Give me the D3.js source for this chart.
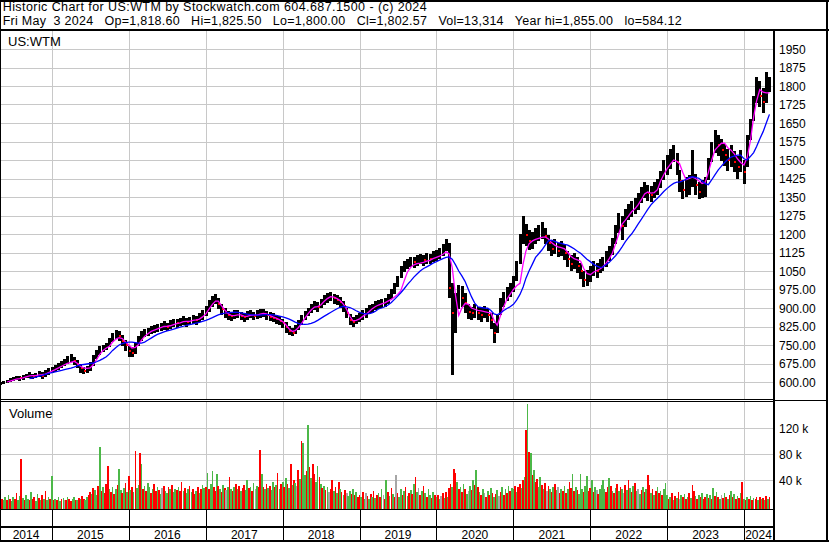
<!DOCTYPE html>
<html>
<head>
<meta charset="utf-8">
<title>Historic Chart for US:WTM</title>
<script src="https://cdn.jsdelivr.net/npm/d3@7"></script>
<style>
  html, body { margin: 0; padding: 0; background: #fff; }
  svg { display: block; font-family: "Liberation Sans", Arial, sans-serif; }
</style>
</head>
<body>
<script>
// price bars, two per month (1st and 16th), May 2014 .. May 2024
const lows = [
  586, 590, 594, 600, 603, 607, 606, 610, 616, 618, 612, 616, 620, 614, 622, 630,
  636, 640, 648, 655, 664, 672, 680, 668, 656, 638, 632, 636, 646, 664, 694, 708, 720, 728, 742, 764, 776, 768, 745, 725,
  700, 700, 712, 745, 768, 782, 788, 795, 800, 804, 808, 812, 806, 816, 822, 820, 826, 832, 824, 830, 836, 832, 842, 852,
  866, 885, 905, 915, 895, 872, 860, 850, 848, 855, 858, 850, 845, 852, 858, 850, 855, 860, 862, 852, 846, 842, 836, 830,
  818, 800, 790, 785, 796, 812, 832, 850, 866, 880, 890, 885, 898, 912, 922, 928, 918, 912, 902, 885, 858, 830, 822, 835,
  842, 852, 860, 874, 880, 890, 895, 900, 904, 915, 935, 958, 985, 1020, 1045, 1058, 1066, 1062, 1072, 1078, 1072, 1080, 1078, 1086,
  1090, 1098, 1112, 1130, 940, 630, 800, 895, 905, 880, 855, 850, 860, 850, 845, 860, 842, 815, 758, 800, 870, 905, 930, 945,
  965, 1010, 1080, 1160, 1150, 1135, 1140, 1160, 1170, 1180, 1158, 1130, 1110, 1118, 1105, 1110, 1095, 1068, 1050, 1058, 1040, 1018, 985, 990,
  1005, 1030, 1020, 1040, 1048, 1068, 1090, 1115, 1160, 1205, 1175, 1230, 1255, 1268, 1280, 1298, 1325, 1345, 1335, 1328, 1345, 1358, 1385, 1420,
  1440, 1465, 1490, 1440, 1370, 1340, 1350, 1360, 1390, 1360, 1340, 1345, 1350, 1420, 1490, 1530, 1515, 1495, 1475, 1455, 1470, 1450, 1425, 1450,
  1402, 1470, 1580, 1660, 1730, 1715, 1690, 1730, 1775
];
const highs = [
  602, 606, 610, 618, 620, 626, 624, 630, 634, 640, 634, 638, 644, 640, 648, 655,
  662, 668, 676, 684, 694, 704, 712, 702, 690, 672, 662, 666, 680, 708, 730, 745, 752, 760, 778, 800, 812, 806, 790, 770,
  745, 740, 760, 785, 805, 815, 820, 826, 832, 836, 840, 846, 838, 850, 856, 854, 860, 866, 858, 864, 870, 868, 878, 892,
  910, 932, 950, 955, 940, 915, 900, 888, 884, 890, 893, 885, 880, 888, 893, 885, 890, 895, 897, 888, 882, 878, 872, 866,
  856, 842, 826, 818, 832, 850, 870, 888, 902, 918, 928, 925, 938, 952, 962, 966, 958, 952, 944, 928, 902, 875, 862, 872,
  880, 890, 898, 912, 918, 928, 932, 938, 942, 958, 978, 1002, 1030, 1070, 1090, 1100, 1108, 1105, 1114, 1120, 1115, 1124, 1120, 1130,
  1135, 1142, 1160, 1178, 1165, 1000, 960, 995, 990, 960, 915, 905, 915, 905, 900, 910, 895, 880, 840, 870, 940, 965, 985, 1000,
  1030, 1090, 1200, 1272, 1240, 1215, 1210, 1225, 1235, 1248, 1225, 1195, 1175, 1180, 1165, 1170, 1158, 1130, 1115, 1122, 1105, 1082, 1048, 1055,
  1070, 1090, 1082, 1100, 1108, 1130, 1152, 1182, 1235, 1285, 1275, 1300, 1320, 1335, 1345, 1365, 1392, 1410, 1400, 1395, 1412, 1425, 1455, 1500,
  1520, 1545, 1562, 1530, 1460, 1420, 1430, 1440, 1540, 1445, 1410, 1420, 1430, 1510, 1575, 1622, 1600, 1585, 1565, 1545, 1560, 1535, 1515, 1540,
  1500, 1600, 1665, 1760, 1835, 1820, 1790, 1855, 1835
];
const closes = [
  595, 598, 604, 610, 612, 618, 615, 622, 626, 630, 622, 628, 633, 626, 638, 645,
  650, 656, 664, 672, 682, 692, 700, 686, 672, 655, 646, 652, 662, 690, 716, 730, 740, 746, 762, 786, 795, 788, 768, 748,
  725, 718, 742, 770, 790, 800, 806, 812, 816, 820, 826, 830, 822, 835, 840, 838, 845, 850, 842, 848, 855, 850, 862, 875,
  890, 912, 932, 940, 918, 895, 880, 870, 866, 872, 876, 868, 862, 870, 876, 868, 873, 878, 880, 870, 864, 860, 855, 848,
  838, 822, 806, 800, 815, 832, 852, 870, 886, 900, 910, 905, 920, 935, 945, 950, 940, 934, 924, 908, 880, 852, 842, 856,
  862, 872, 880, 895, 900, 910, 915, 920, 924, 940, 960, 985, 1010, 1050, 1070, 1080, 1090, 1085, 1095, 1100, 1094, 1104, 1100, 1110,
  1115, 1122, 1140, 1158, 980, 880, 905, 960, 940, 920, 885, 878, 890, 880, 872, 886, 870, 850, 800, 835, 905, 940, 955, 975,
  1000, 1060, 1150, 1230, 1195, 1172, 1180, 1195, 1205, 1215, 1190, 1162, 1140, 1150, 1132, 1140, 1125, 1100, 1080, 1092, 1070, 1050, 1012, 1022,
  1040, 1060, 1050, 1070, 1078, 1100, 1120, 1150, 1200, 1250, 1232, 1270, 1290, 1302, 1312, 1332, 1360, 1380, 1368, 1360, 1380, 1392, 1420, 1460,
  1480, 1510, 1535, 1490, 1415, 1380, 1392, 1400, 1445, 1400, 1370, 1380, 1392, 1470, 1530, 1580, 1560, 1540, 1520, 1500, 1520, 1490, 1470, 1500,
  1450, 1560, 1640, 1720, 1790, 1760, 1735, 1790, 1803
];
// moving averages (magenta = short, blue = long)
const maFast = [
  null, null, 600, 604, 608, 612, 614, 617, 621, 625, 626, 626, 629, 630, 632, 638,
  644, 650, 657, 664, 670, 676, 680, 684, 676, 664, 657, 655, 657, 670, 692, 712, 728, 738, 745, 762, 774, 780, 776, 762,
  750, 738, 740, 752, 770, 785, 796, 805, 810, 815, 820, 825, 826, 828, 833, 837, 840, 845, 846, 846, 850, 852, 855, 864,
  876, 895, 915, 928, 928, 910, 892, 878, 870, 869, 872, 872, 867, 866, 870, 871, 871, 875, 878, 876, 870, 864, 859, 853,
  845, 832, 815, 805, 808, 820, 838, 858, 876, 892, 904, 906, 912, 926, 938, 946, 944, 938, 930, 916, 894, 866, 848, 850,
  856, 866, 875, 886, 896, 905, 912, 917, 921, 928, 935, 945, 955, 970, 1010, 1045, 1065, 1075, 1080, 1082, 1085, 1090, 1093, 1100,
  1105, 1110, 1118, 1128, 1120, 1065, 950, 870, 900, 918, 915, 900, 895, 890, 888, 885, 882, 880, 850, 830, 870, 905, 935, 955,
  975, 990, 1000, 1080, 1130, 1160, 1172, 1178, 1182, 1186, 1188, 1180, 1165, 1155, 1148, 1145, 1140, 1125, 1110, 1100, 1095, 1090, 1060, 1040,
  1035, 1045, 1052, 1058, 1066, 1080, 1100, 1122, 1160, 1200, 1240, 1255, 1272, 1290, 1302, 1318, 1340, 1362, 1370, 1366, 1368, 1380, 1415, 1440,
  1465, 1482, 1500, 1495, 1485, 1450, 1420, 1425, 1430, 1425, 1415, 1405, 1410, 1450, 1500, 1540, 1555, 1568, 1568, 1550, 1540, 1525, 1505, 1490,
  1480, 1510, 1580, 1675, 1740, 1785, 1775, 1772, 1772
];
const maSlow = [
  null, null, null, null, null, null, null, null, null, 614, 617, 620, 624, 627, 631, 635,
  638, 641, 644, 647, 650, 653, 656, 660, 665, 669, 671, 673, 675, 677, 682, 688, 695, 702, 714, 728, 740, 750, 756, 760,
  762, 762, 760, 758, 758, 762, 770, 778, 786, 793, 798, 803, 807, 810, 814, 818, 822, 826, 830, 833, 836, 839, 842, 846,
  850, 855, 861, 867, 872, 876, 879, 881, 882, 883, 882, 880, 878, 875, 873, 872, 871, 871, 872, 873, 873, 872, 870, 867,
  864, 860, 855, 849, 843, 838, 835, 834, 835, 838, 843, 850, 858, 866, 874, 882, 890, 897, 903, 907, 905, 902, 896, 889,
  882, 878, 876, 877, 880, 886, 896, 900, 905, 912, 922, 935, 948, 962, 978, 995, 1010, 1025, 1038, 1050, 1060, 1067, 1074, 1082,
  1088, 1094, 1100, 1105, 1107, 1098, 1075, 1050, 1030, 1008, 975, 945, 920, 905, 902, 900, 899, 890, 876, 872, 880, 890, 898, 905,
  915, 932, 955, 985, 1020, 1050, 1078, 1105, 1120, 1135, 1155, 1172, 1175, 1170, 1165, 1162, 1158, 1155, 1148, 1140, 1130, 1122, 1110, 1098,
  1088, 1078, 1070, 1065, 1066, 1075, 1085, 1098, 1112, 1128, 1148, 1168, 1185, 1200, 1220, 1240, 1260, 1280, 1300, 1318, 1333, 1345, 1358, 1372,
  1385, 1396, 1405, 1410, 1410, 1415, 1422, 1430, 1432, 1430, 1426, 1415, 1404, 1400, 1420, 1440, 1460, 1475, 1490, 1502, 1512, 1516, 1520, 1520,
  1505, 1500, 1515, 1530, 1555, 1585, 1615, 1650, 1685
];
// volume in thousands, four per month (1st, 8th, 16th, 24th)
const volumes = [
  37, 12, 10, 15, 9, 18, 11, 8, 14, 12, 20, 9, 16, 73, 13, 10, 18, 12, 9, 22, 11, 15, 8, 19, 13, 10, 17, 12, 24, 9, 14, 11,
  46, 10, 12, 9, 14, 8, 11, 13, 10, 9, 15, 12, 8, 11, 14, 10, 9, 13, 12, 16, 11, 10, 14, 18,
  22, 19, 28, 25, 18, 32, 92, 24, 30, 21, 35, 62, 27, 22, 30, 19, 26, 33, 58, 25, 20, 28, 36, 22,
  47, 25, 30, 22, 85, 28, 33, 82, 65, 26, 31, 24, 36, 29, 20, 27, 34, 23, 30, 25, 19, 28, 32, 24,
  21, 29, 26, 33, 22, 27, 25, 30, 24, 38, 23, 28, 20, 26, 31, 22, 27, 19, 24, 29, 21, 26, 33, 28,
  30, 52, 26, 34, 55, 29, 24, 50, 31, 27, 22, 33, 28, 25, 30, 45, 27, 23, 29, 35, 26, 31, 24, 28,
  33, 25, 41, 28, 30, 24, 36, 27, 32, 29, 87, 50, 30, 26, 34, 28, 31, 25, 37, 29, 33, 52, 27, 35,
  38, 30, 44, 35, 28, 65, 33, 40, 36, 31, 56, 42, 100, 98, 48, 55, 125, 60, 44, 65, 50, 38, 62, 45,
  35, 28, 32, 25, 30, 22, 27, 41, 24, 29, 20, 37, 26, 22, 18, 25, 21, 16, 23, 19, 27, 17, 22, 15,
  18, 14, 22, 12, 20, 16, 11, 19, 15, 24, 13, 17, 21, 14, 26, 18, 12, 41, 22, 16, 28, 19, 15, 48,
  20, 14, 27, 18, 23, 30, 16, 21, 25, 19, 34, 45, 22, 28, 17, 24, 31, 20, 15, 26, 18, 13, 22, 17,
  14, 18, 12, 16, 20, 13, 22, 15, 28, 35, 30, 58, 52, 38, 26, 30, 22, 34, 27, 19, 24, 31, 25, 41,
  33, 56, 29, 22, 18, 26, 20, 15, 23, 17, 28, 21, 14, 19, 25, 16, 22, 30, 18, 26, 20, 32, 24, 28,
  26, 32, 22, 30, 35, 28, 40, 45, 117, 157, 83, 82, 48, 56, 38, 42, 30, 45, 33, 27, 36, 24, 31, 26,
  22, 29, 34, 25, 30, 21, 27, 24, 32, 20, 26, 37, 28, 50, 23, 30, 25, 19, 50, 27, 22, 31, 47, 24,
  28, 41, 22, 30, 25, 19, 27, 33, 40, 26, 22, 29, 43, 31, 24, 20, 28, 35, 23, 30, 26, 21, 33, 25,
  40, 28, 22, 31, 36, 24, 27, 19, 25, 30, 22, 27, 48, 33, 21, 26, 18, 24, 29, 20, 23, 17, 26, 36,
  18, 12, 15, 20, 10, 16, 13, 22, 11, 17, 14, 19, 12, 15, 21, 13, 33, 24, 16, 12, 18, 14, 20, 11,
  15, 19, 13, 17, 12, 28, 16, 22, 14, 11, 18, 13, 20, 15, 12, 17, 23, 14, 19, 11, 16, 13, 20, 38,
  12, 9, 14, 11, 16, 10, 13, 12, 15, 9, 14, 11, 13, 10, 16, 12, 14
];
// g = up, r = down, n = unchanged
const volDirection = [
  "grggrgrggrrggrgrggrgrrggrgrgrggr",
  "grgrggrgnrgrrggrgrgrrggr", "rgrggrgrgrrrgrgrgrggrgrg",
  "rgrgrggrgrgrggrgrrgrgnrg", "grgrggrgrrgrggrgrrgrgrgg",
  "rgrggrrgrgrgrngrgrgrgrgr", "rggrgrgngrrgrgrgrggrgrgr",
  "grgrgrgrgnrgrggrgrgrrggr", "grgrgnrrgrgrgrgrnggrgrgr",
  "rgrgnrgrgrgrgrgnrgrgrgrn", "rggrgrgrgrgrgnrgrgrggrgr",
  "grgnrgrgrrgrrgrgrgrgngrg", "rgrgrgnrgrgrgrgnrgrgrgrg",
  "grgrrgrgrgrgrgrrggrgrnrg", "rgrgnrgrgrgrrgrgrgggrggr",
  "rgrgnrggggrrgrgrgrgrgnrg", "rgrgrgngrgrgrrgrgrgrgrgg",
  "grgrgrgrngrgrgrgrrgrgrgr", "rgrgrgrgrgnrgrgrgrgrgrgr",
  "grgrgrgrrgrgrgrgr"
].join("");

const years = [2014, 2015, 2016, 2017, 2018, 2019, 2020, 2021, 2022, 2023, 2024];
const priceTicks = [600, 675, 750, 825, 900, 975, 1050, 1125, 1200, 1275, 1350, 1425, 1500, 1575, 1650, 1725, 1800, 1875, 1950];
const volTicks = [40000, 80000, 120000];
const header1 = "Historic Chart for US:WTM by Stockwatch.com 604.687.1500 - (c) 2024";
const header2 = "Fri May  3 2024   Op=1,818.60   Hi=1,825.50   Lo=1,800.00   Cl=1,802.57   Vol=13,314   Year hi=1,855.00   lo=584.12";

const width = 830, height = 543;
const plotRight = 773;
const priceTop = 31, priceBottom = 399;
const volTop = 402, volBottom = 509;

const barDates = closes.map((d, i) => new Date(2014, 4 + Math.floor(i / 2), i % 2 ? 16 : 1));
const volDates = volumes.map((d, j) => new Date(2014, 4 + Math.floor(j / 4), [1, 8, 16, 24][j % 4]));

const svg = d3.select("body").append("svg")
  .attr("width", width)
  .attr("height", height);

svg.append("rect").attr("width", width).attr("height", height).attr("fill", "#fff");

const x = d3.scaleTime()
  .domain([new Date(2014, 4, 1), new Date(2024, 4, 6)])
  .range([0.4, 770.5]);
const y = d3.scaleLinear().domain([600, 1950]).range([382, 49]);
const yv = d3.scaleLinear().domain([0, 120000]).range([506.3, 428.3]);

const yearStart = (yr) => x(new Date(yr, 0, 1));
const snap = (v) => Math.round(v) + 0.5;

svg.append("defs").append("clipPath").attr("id", "priceClip")
  .append("rect").attr("x", 0).attr("y", priceTop).attr("width", plotRight).attr("height", priceBottom - priceTop);

// grid
const grid = svg.append("g").attr("shape-rendering", "crispEdges").attr("stroke", "#c8c8c8").attr("stroke-width", 1);
grid.selectAll(".hp").data(priceTicks).enter().append("line")
  .attr("x1", 0).attr("x2", plotRight)
  .attr("y1", (d) => snap(y(d))).attr("y2", (d) => snap(y(d)));
grid.selectAll(".hv").data(volTicks).enter().append("line")
  .attr("x1", 0).attr("x2", plotRight)
  .attr("y1", (d) => snap(yv(d))).attr("y2", (d) => snap(yv(d)));
grid.selectAll(".vp").data(years.slice(1)).enter().append("line")
  .attr("x1", (d) => snap(yearStart(d))).attr("x2", (d) => snap(yearStart(d)))
  .attr("y1", priceTop).attr("y2", priceBottom);
grid.selectAll(".vv").data(years.slice(1)).enter().append("line")
  .attr("x1", (d) => snap(yearStart(d))).attr("x2", (d) => snap(yearStart(d)))
  .attr("y1", volTop).attr("y2", volBottom);

// volume bars
const volColor = { g: "#4cb848", r: "#ff0000", n: "#a6a6a6" };
svg.append("g").attr("shape-rendering", "crispEdges")
  .selectAll("rect").data(volumes).enter().append("rect")
  .attr("x", (d, j) => x(volDates[j]) - 0.8)
  .attr("width", 1.6)
  .attr("y", (d) => yv(d * 1000))
  .attr("height", (d) => volBottom - yv(d * 1000))
  .attr("fill", (d, j) => volColor[volDirection[j]]);

// price bars
const price = svg.append("g").attr("clip-path", "url(#priceClip)");
price.append("g").attr("shape-rendering", "crispEdges")
  .selectAll("rect").data(closes).enter().append("rect")
  .attr("x", (d, i) => x(barDates[i]) - 1.3)
  .attr("width", 3)
  .attr("y", (d, i) => y(highs[i]))
  .attr("height", (d, i) => y(lows[i]) - y(highs[i]))
  .attr("fill", "#000");

// red close marks on the down bars
const downBars = d3.range(1, closes.length).filter((i) => closes[i] < closes[i - 1]);
price.append("g").attr("shape-rendering", "crispEdges")
  .selectAll("rect").data(downBars).enter().append("rect")
  .attr("x", (i) => x(barDates[i]) + 0.2)
  .attr("width", 2)
  .attr("y", (i) => y(closes[i]) - 1)
  .attr("height", 2)
  .attr("fill", "#ff0000");

const maLine = d3.line()
  .defined((d) => d != null)
  .x((d, i) => x(barDates[i]))
  .y((d) => y(d));

price.append("path").datum(maFast)
  .attr("d", maLine)
  .attr("fill", "none")
  .attr("stroke", "#ff00ff")
  .attr("stroke-width", 1.3);

price.append("path").datum(maSlow)
  .attr("d", maLine)
  .attr("fill", "none")
  .attr("stroke", "#0000ff")
  .attr("stroke-width", 1.3);

// frame
const frame = svg.append("g").attr("shape-rendering", "crispEdges").attr("stroke", "#000");
const hline = (x1, x2, yy, w) => frame.append("line").attr("x1", x1).attr("x2", x2).attr("y1", yy).attr("y2", yy).attr("stroke-width", w);
const vline = (xx, y1, y2, w) => frame.append("line").attr("x1", xx).attr("x2", xx).attr("y1", y1).attr("y2", y2).attr("stroke-width", w);
hline(0, 829, 1, 2);
hline(0, 829, 30, 2);
hline(0, plotRight, 399.5, 1);
hline(0, plotRight, 401.5, 1);
hline(plotRight, 828, 400.5, 1);
hline(0, plotRight, 509.5, 1);
hline(0, plotRight, 527, 2);
hline(0, 829, 541, 2);
vline(0.5, 0, 542, 1);
vline(774, 30, 542, 2);
vline(827, 0, 542, 2);
years.slice(1).forEach((yr) => vline(snap(yearStart(yr)), 510, 541, 1));

// texts
const text = svg.append("g").attr("fill", "#000");
text.append("text")
  .attr("x", 2.7).attr("y", 10.5)
  .attr("font-size", 12.5)
  .attr("textLength", 424).attr("lengthAdjust", "spacing")
  .text(header1);
text.append("text")
  .attr("x", 2.7).attr("y", 25)
  .attr("font-size", 12.5)
  .style("white-space", "pre")
  .attr("textLength", 679).attr("lengthAdjust", "spacing")
  .text(header2);
text.append("text").attr("x", 8).attr("y", 46).attr("font-size", 13).text("US:WTM");
text.append("text").attr("x", 9).attr("y", 418).attr("font-size", 13).text("Volume");

text.selectAll(".pt").data(priceTicks).enter().append("text")
  .attr("x", 779)
  .attr("y", (d) => y(d) + 4.5)
  .attr("font-size", 12)
  .text((d) => (d >= 1000 ? d : d.toFixed(2)));

text.selectAll(".vt").data(volTicks).enter().append("text")
  .attr("x", 779)
  .attr("y", (d) => yv(d) + 4.5)
  .attr("font-size", 12)
  .text((d) => d / 1000 + " k");

text.selectAll(".yr").data(years).enter().append("text")
  .attr("x", (d) => (Math.max(yearStart(d), 0) + Math.min(yearStart(d + 1), plotRight)) / 2)
  .attr("y", 539)
  .attr("font-size", 12)
  .attr("text-anchor", "middle")
  .text((d) => d);
</script>
</body>
</html>
